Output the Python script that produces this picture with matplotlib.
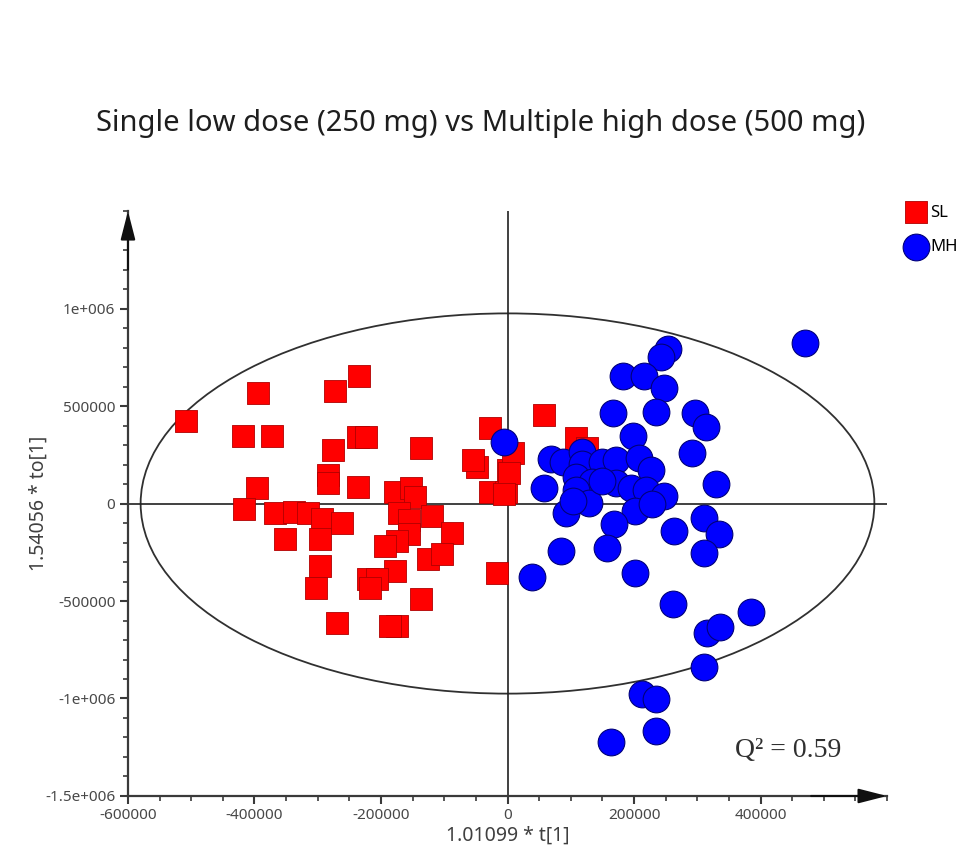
import matplotlib
matplotlib.use('Agg')
import matplotlib.pyplot as plt
from matplotlib.patches import Ellipse
from matplotlib.ticker import MultipleLocator

plt.rcParams['font.family'] = ['Noto Sans', 'DejaVu Sans']

# scores
sl_x = [-508000, -395000, -273000, -235000, -418000, -373000, -276000, -237000, -223000,
        -284000, -284000, -237000, -136000, -49000, -28000, -28000, -2000, 0,
        -396000, -417000, -368000, -338000, -316000, -294000, -261000, -351000, -297000,
        -297000, -302000, -270000, -178000, -152000, -147000, -171000, -155000, -120000,
        -87000, -155000, -175000, -194000, -126000, -104000, -178000, -221000, -207000,
        -218000, -136000, -175000, -186000, -16000, 58000, 109000, 126000, 8000,
        3000, -5000, -55000]
sl_y = [421000, 565000, 575000, 652000, 344000, 344000, 272000, 339000, 339000,
        144000, 103000, 87000, 283000, 185000, 385000, 57000, 57000, 170000,
        82000, -26000, -51000, -41000, -51000, -77000, -98000, -180000, -180000,
        -318000, -432000, -611000, 57000, 82000, 31000, -51000, -87000, -62000,
        -149000, -154000, -190000, -216000, -283000, -257000, -344000, -385000, -385000,
        -432000, -488000, -627000, -627000, -354000, 452000, 334000, 283000, 257000,
        154000, 51000, 221000]

mh_x = [-5000, 471000, 253000, 243000, 183000, 216000, 248000, 167000, 235000, 297000,
        314000, 199000, 292000, 330000, 69000, 87000, 117000, 118000, 150000, 172000,
        208000, 227000, 58000, 109000, 134000, 109000, 172000, 196000, 219000, 248000,
        129000, 93000, 201000, 229000, 169000, 264000, 311000, 335000, 85000, 158000,
        311000, 38000, 201000, 261000, 385000, 316000, 336000, 311000, 212000, 234000,
        235000, 164000, 103000, 150000]
mh_y = [313000, 822000, 791000, 750000, 652000, 652000, 591000, 462000, 467000, 462000,
        390000, 344000, 257000, 98000, 226000, 211000, 262000, 205000, 211000, 221000,
        231000, 170000, 77000, 134000, 108000, 67000, 103000, 82000, 67000, 41000,
        5000, -51000, -36000, 0, -103000, -139000, -72000, -154000, -241000, -226000,
        -252000, -375000, -354000, -514000, -555000, -663000, -632000, -837000, -976000, -1002000,
        -1166000, -1223000, 15000, 118000]

x_ticks = [-600000, -400000, -200000, 0, 200000, 400000]
x_labels = ['-600000', '-400000', '-200000', '0', '200000', '400000']
y_ticks = [-1500000, -1000000, -500000, 0, 500000, 1000000]
y_labels = ['-1.5e+006', '-1e+006', '-500000', '0', '500000', '1e+006']

ell_w = 1160000
ell_h = 1950000
q2 = 0.59

fig = plt.figure(figsize=(9.63, 8.67), dpi=100)
ax = fig.add_axes([0.1329, 0.0819, 0.7882, 0.6747])

ax.set_xlim(-600000, 600000)
ax.set_ylim(-1500000, 1500000)

ax.add_patch(Ellipse((0, 0), ell_w, ell_h, fill=False, ec='#303030', lw=1.3, zorder=1))
ax.axhline(0, color='#202020', lw=1.2, zorder=1)
ax.axvline(0, color='#202020', lw=1.2, zorder=1)

ax.scatter(sl_x, sl_y, marker='s', s=255, c='#ff0000', edgecolors='#b00000',
           linewidths=0.6, zorder=3, label='SL')
ax.scatter(mh_x, mh_y, marker='o', s=370, c='#0000ff', edgecolors='#00007a',
           linewidths=0.8, zorder=4, label='MH')

for side in ['top', 'right']:
    ax.spines[side].set_visible(False)
for side in ['left', 'bottom']:
    ax.spines[side].set_color('#3a3a3a')
    ax.spines[side].set_linewidth(1.6)

ax.set_xticks(x_ticks, x_labels)
ax.set_yticks(y_ticks, y_labels)
ax.xaxis.set_minor_locator(MultipleLocator(50000))
ax.yaxis.set_minor_locator(MultipleLocator(100000))
ax.tick_params(which='major', length=6, width=1.5, color='#3a3a3a', labelsize=11,
               labelcolor='#484848', pad=3)
ax.tick_params(which='minor', length=3.5, width=1.2, color='#3a3a3a')

# arrow heads on the axes
arrow = dict(arrowstyle='-|>,head_length=1.25,head_width=0.32', color='#101010',
             lw=1.5, shrinkA=0, shrinkB=0, mutation_scale=14)
ax.annotate('', xy=(0, 1), xytext=(0, 0.9), xycoords='axes fraction',
            arrowprops=arrow, annotation_clip=False)
ax.annotate('', xy=(1, 0), xytext=(0.9, 0), xycoords='axes fraction',
            arrowprops=arrow, annotation_clip=False)

ax.set_xlabel('1.01099 * t[1]', fontsize=14, color='#404040')
ax.set_ylabel('1.54056 * to[1]', fontsize=14, color='#404040')
ax.xaxis.set_label_coords(0.5, -0.05)
ax.yaxis.set_label_coords(-0.105, 0.5)

ax.text(0.80, 0.067, 'Q² = %.2f' % q2, transform=ax.transAxes,
        family='Liberation Serif', fontsize=20, color='#303030', va='baseline')

fig.legend(loc='upper left', bbox_to_anchor=(0.940, 0.764), frameon=False,
           scatterpoints=1, fontsize=12, handlelength=1.3, handletextpad=0.2,
           borderpad=0, borderaxespad=0, labelspacing=1.1)

fig.text(481 / 963, 1 - 123 / 867, 'Single low dose (250 mg) vs Multiple high dose (500 mg)',
         ha='center', va='center', fontsize=21, color='#1e1e1e')

fig.savefig('out.png', dpi=100)
